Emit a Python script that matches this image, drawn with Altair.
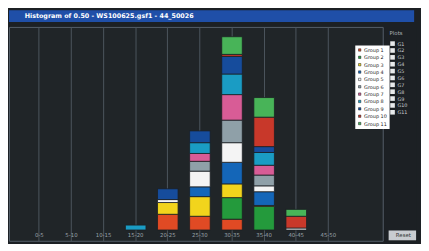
import altair as alt
import pandas as pd

# ---- data ----
categories = ["0-5", "5-10", "10-15", "15-20", "20-25", "25-30", "30-35", "35-40", "40-45", "45-50"]
series_names = ["Group 1", "Group 2", "Group 3", "Group 4", "Group 5", "Group 6",
                "Group 7", "Group 8", "Group 9", "Group 10", "Group 11"]
series_colors = ["#e04a24", "#249a3c", "#f2d41c", "#1466b8", "#f4f4f4", "#8fa0a8",
                 "#d85c96", "#1a9cc4", "#164c9c", "#c8382a", "#48b458"]
s1 = [0, 0, 0, 0, 8, 7, 5.5, 0, 0, 0]
s2 = [0, 0, 0, 0, 0, 0, 11, 12, 0, 0]
s3 = [0, 0, 0, 0, 6, 10, 7, 0.5, 0, 0]
s4 = [0, 0, 0, 0, 0, 5, 11, 7, 0, 0]
s5 = [0, 0, 0, 0, 1.5, 8, 10, 3, 1, 0]
s6 = [0, 0, 0, 0, 0, 5, 11.5, 5.5, 0, 0]
s7 = [0, 0, 0, 0, 0, 4, 13, 5, 0, 0]
s8 = [0, 0, 0, 2.5, 0, 5.5, 10.5, 6.5, 0, 0]
s9 = [0, 0, 0, 0, 5.5, 6, 9, 3, 0, 0]
s10 = [0, 0, 0, 0, 0, 0, 1, 15, 6, 0]
s11 = [0, 0, 0, 0, 0, 0, 9, 10, 3.5, 0]
series_values = [s1, s2, s3, s4, s5, s6, s7, s8, s9, s10, s11]
panel_items = ["G1", "G2", "G3", "G4", "G5", "G6", "G7", "G8", "G9", "G10", "G11"]
title_text = "Histogram of 0.50 - WS100625.gsf1 - 44_50026"

rows = []
for k, (name, vals) in enumerate(zip(series_names, series_values)):
    for cat, v in zip(categories, vals):
        if v > 0:
            rows.append({"bin": cat, "series": name, "count": v, "order": k})
df = pd.DataFrame(rows)

BG = "#1c2024"

bars = alt.Chart(df).mark_bar(stroke=BG, strokeWidth=0.8).encode(
    x=alt.X("bin:N", sort=categories,
            scale=alt.Scale(domain=categories, paddingInner=0.36, paddingOuter=1, align=0.313),
            axis=alt.Axis(title=None, grid=True, gridColor="#4d565e", gridWidth=1,
                          ticks=False, domain=False, labelAngle=0, labelFontSize=5.5,
                          labelColor="#9aa2a8", labelFont="DejaVu Sans", offset=-11,
                          labelPadding=3, bandPosition=0.5)),
    y=alt.Y("sum(count):Q", scale=alt.Scale(domain=[-5.5, 103.5], nice=False, zero=False),
            axis=None, stack="zero"),
    color=alt.Color("series:N", scale=alt.Scale(domain=series_names, range=series_colors),
                    legend=alt.Legend(title=None, orient="none", legendX=353, legendY=36,
                                      fillColor="#ffffff", padding=2, labelFontSize=5,
                                      labelColor="#222222", symbolSize=6, symbolType="square",
                                      rowPadding=1.5, labelOffset=2, labelFont="DejaVu Sans",
                                      symbolStrokeWidth=0.5)),
    order=alt.Order("order:Q"),
).properties(
    width=381, height=218,
    view=alt.ViewBackground(fill="#202528", stroke="#56606a", strokeWidth=1),
)

# ---- side panel ----
panel_df = pd.DataFrame({"item": panel_items, "i": list(range(len(panel_items)))})
py = alt.Scale(domain=[-2.43, 28.71], reverse=True, nice=False, zero=False)
boxes = alt.Chart(panel_df).mark_square(color="#e8eaec", size=22, opacity=1).encode(
    x=alt.value(8), y=alt.Y("i:Q", scale=py, axis=None))
items = alt.Chart(panel_df).mark_text(fontSize=5, color="#c8ccd0", align="left",
                                       font="DejaVu Sans").encode(
    x=alt.value(13), y=alt.Y("i:Q", scale=py, axis=None), text="item:N")
header = alt.Chart(pd.DataFrame({"t": ["Plots"]})).mark_text(
    fontSize=5.5, color="#aab0b6", align="left", font="DejaVu Sans").encode(
    x=alt.value(5), y=alt.value(6), text="t:N")
button = alt.Chart(pd.DataFrame({"t": ["Reset"]})).mark_rule(
    color="#c8ccd0", strokeWidth=10).encode(
    x=alt.value(4), x2=alt.value(32), y=alt.value(212.5))
button_text = alt.Chart(pd.DataFrame({"t": ["Reset"]})).mark_text(
    fontSize=5.5, color="#333333", font="DejaVu Sans").encode(
    x=alt.value(19), y=alt.value(212.5), text="t:N")
panel = alt.layer(boxes, items, header, button, button_text).properties(
    width=32, height=218, view=alt.ViewBackground(fill=BG, stroke=None))

# ---- title bar ----
title_bar = alt.Chart(pd.DataFrame({"t": [title_text]})).mark_text(
    fontSize=6.5, color="#ffffff", align="left", baseline="middle", font="DejaVu Sans",
    fontWeight="bold").encode(
    x=alt.value(16), y=alt.value(6), text="t:N"
).properties(width=413, height=12,
             view=alt.ViewBackground(fill="#1f4fa8", stroke=None))

chart = alt.vconcat(
    title_bar,
    alt.hconcat(bars, panel, spacing=0),
    spacing=4,
).properties(padding=0).configure(background=BG)

chart.save("out.html", embed_options={"renderer": "svg", "actions": False})
